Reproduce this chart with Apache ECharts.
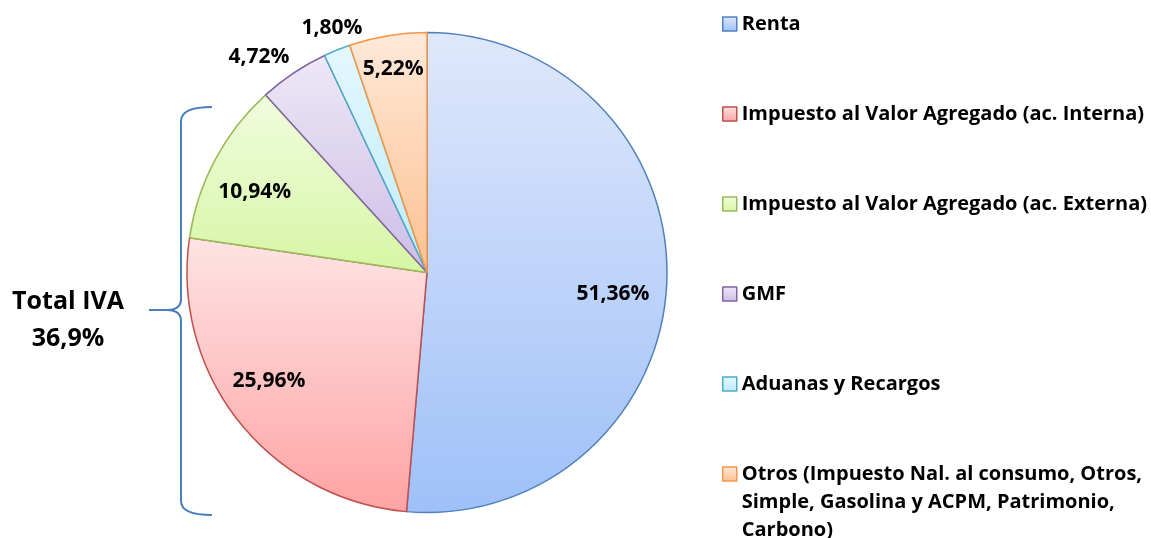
<!DOCTYPE html>
<html><head><meta charset="utf-8">
<script src="https://cdn.jsdelivr.net/npm/echarts@6/dist/echarts.min.js"></script>
<style>html,body{margin:0;padding:0;background:#fff}#c{width:1151px;height:538px}</style>
</head><body><div id="c"></div>
<script>
// ---- data ----
const categories = [
  'Renta',
  'Impuesto al Valor Agregado (ac. Interna)',
  'Impuesto al Valor Agregado (ac. Externa)',
  'GMF',
  'Aduanas y Recargos',
  'Otros (Impuesto Nal. al consumo, Otros, Simple, Gasolina y ACPM, Patrimonio, Carbono)'
];
const shares = [51.36, 25.96, 10.94, 4.72, 1.80, 5.22];
const otrosLegendLines = ['Otros (Impuesto Nal. al consumo, Otros,', 'Simple, Gasolina y ACPM, Patrimonio,', 'Carbono)'];
const totalIvaLines = ['Total IVA', '36,9%'];

// ---- styles ----
const FONT = '"Open Sans"';
const borderColors = ['#4f81bd', '#c0504d', '#9bbb59', '#8064a2', '#4bacc6', '#f79646'];
const topColors    = ['#dfe8fb', '#fde4e4', '#f1fcdf', '#eee8f6', '#e4f8fd', '#fee9d9'];
const bottomColors = ['#9fc0f8', '#ffa3a3', '#d6f6a4', '#ccbde7', '#bdebfa', '#fcc190'];
const labelRadiusFrac = [0.776, 0.797, 0.79, 1.14, 1.09, 0.86];
const labelNudge = [[0, 14], [-8, -10], [-5, 9], [-16, 12], [3, -2], [0, 0]];
const CENTER = [427, 272.5];
const R = 240;

const fmt = v => v.toFixed(2).replace('.', ',') + '%';

const mainData = categories.map((name, i) => ({
  name, value: shares[i],
  itemStyle: {
    color: { type: 'linear', x: 0, y: 0, x2: 0, y2: 1,
      colorStops: [{ offset: 0, color: topColors[i] }, { offset: 1, color: bottomColors[i] }] },
    borderColor: borderColors[i], borderWidth: 1.5
  }
}));

const series = [{
  type: 'pie', center: CENTER, radius: [0, R], startAngle: 90, clockwise: true,
  data: mainData, label: { show: false }, labelLine: { show: false },
  emphasis: { disabled: true }, silent: true, animation: false
}];

// label overlays: transparent pies whose inside-label radius places each label
labelRadiusFrac.forEach((f, k) => {
  series.push({
    type: 'pie', center: CENTER, radius: [0, 2 * (f * R - 3)], startAngle: 90, clockwise: true,
    silent: true, animation: false, avoidLabelOverlap: false, emphasis: { disabled: true },
    itemStyle: { color: 'rgba(0,0,0,0)', borderWidth: 0 },
    labelLine: { show: false },
    labelLayout: { dx: labelNudge[k][0], dy: labelNudge[k][1], hideOverlap: false },
    data: categories.map((name, i) => ({
      name, value: shares[i],
      label: { show: i === k }
    })),
    label: {
      position: 'inside', overflow: 'none', formatter: p => fmt(p.value),
      fontFamily: FONT, fontWeight: 'bold', fontSize: 21, color: '#000'
    }
  });
});

const legendText = { fontFamily: FONT, fontWeight: 'bold', fontSize: 20, color: '#000', lineHeight: 28 };

const braceStyle = { fill: 'none', stroke: '#4a7ebb', lineWidth: 2 };
const bez = (x1, y1, cpx1, cpy1, cpx2, cpy2, x2, y2) => ({
  type: 'bezierCurve', silent: true, shape: { x1, y1, cpx1, cpy1, cpx2, cpy2, x2, y2 }, style: braceStyle
});
const seg = (x1, y1, x2, y2) => ({ type: 'line', silent: true, shape: { x1, y1, x2, y2 }, style: braceStyle });

const option = {
  backgroundColor: '#fff',
  animation: false,
  legend: [{
    orient: 'vertical', left: 722, top: 10, padding: 0,
    itemWidth: 14, itemHeight: 14, itemGap: 62, icon: 'rect',
    selectedMode: false,
    itemStyle: { borderWidth: 1.5 },
    textStyle: legendText,
    data: categories.slice(0, 5)
  }, {
    orient: 'vertical', left: 722, top: 404, padding: 0,
    itemWidth: 14, itemHeight: 14, icon: 'rect',
    selectedMode: false,
    itemStyle: { borderWidth: 1.5 },
    textStyle: legendText,
    // two blank lines first so the first real line sits beside the marker
    formatter: () => '\n\n' + otrosLegendLines.join('\n'),
    data: [categories[5]]
  }],
  graphic: [
    bez(212, 107, 192, 107, 181, 111, 181, 121),
    seg(181, 121, 181, 299),
    bez(181, 299, 181, 306, 176, 310, 167, 310),
    seg(167, 310, 149, 310),
    bez(167, 310, 176, 310, 181, 314, 181, 321),
    seg(181, 321, 181, 501),
    bez(181, 501, 181, 511, 192, 515, 212, 515),
    {
      type: 'text', silent: true, x: 68, y: 320,
      style: {
        text: totalIvaLines.join('\n'), align: 'center', verticalAlign: 'middle',
        textAlign: 'center', textVerticalAlign: 'middle',
        fontFamily: FONT, fontWeight: 'bold', fontSize: 25, lineHeight: 37, fill: '#000'
      }
    }
  ],
  series
};

const chart = echarts.init(document.getElementById('c'), null, { renderer: 'canvas' });
chart.setOption(option);
</script>
</body></html>
